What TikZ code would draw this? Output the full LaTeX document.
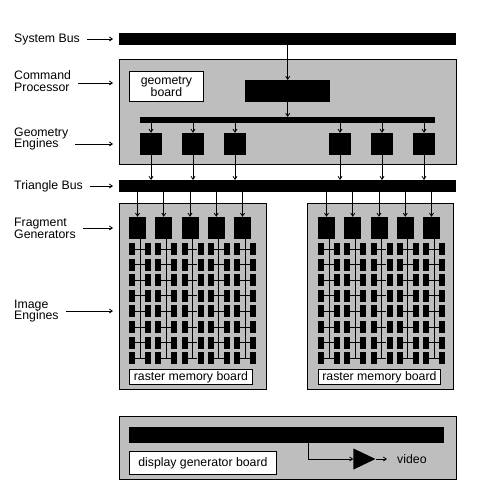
\documentclass[tikz,border=0pt]{standalone}
\usepackage{fontspec}
\setmainfont{Liberation Sans}
\usetikzlibrary{arrows.meta,shapes.geometric}
\definecolor{boardgray}{RGB}{190,190,190}

\begin{document}
\begin{tikzpicture}[x=1pt,y=-1pt]
   \tikzstyle{every node}=[inner sep=0pt, font=\fontsize{12.3}{11.8}\selectfont]
   \tikzstyle{board}=[draw, fill=boardgray, line width=0.8pt, anchor=north west]
   \tikzstyle{bar}=[fill=black, anchor=north west]
   \tikzstyle{chip}=[fill=black, minimum width=22pt, minimum height=22pt]
   \tikzstyle{cell}=[fill=black, minimum width=6pt, minimum height=12pt]
   \tikzstyle{tag}=[draw, fill=white, line width=0.8pt, anchor=north west, align=center]
   \tikzstyle{caption}=[anchor=west, align=left]
   \tikzstyle{feed}=[line width=0.8pt, -{Straight Barb[length=3pt,width=4pt]}]
   \useasboundingbox (0,0) rectangle (488,495);

% buses and boards
\node[bar, minimum width=337pt, minimum height=12pt] (sysbus) at (119,33) {};
\node[board, minimum width=337pt, minimum height=105pt] (cmdproc) at (119,59) {};
\node[tag, minimum width=74pt, minimum height=30pt] (geoboard) at (129,71) {geometry\\board};
\node[bar, minimum width=85pt, minimum height=22pt] (cpchip) at (245,80) {};
\node[bar, minimum width=295pt, minimum height=6pt] (gebus) at (140,117) {};
\node[bar, minimum width=337pt, minimum height=12pt] (tribus) at (119,180) {};
\node[board, minimum width=147pt, minimum height=186pt] (rasterL) at (119,203) {};
\node[board, minimum width=146pt, minimum height=186pt] (rasterR) at (307,203) {};
\node[tag, minimum width=123pt, minimum height=15pt] (rmL) at (129,369) {raster memory board};
\node[tag, minimum width=122pt, minimum height=15pt] (rmR) at (318,369) {raster memory board};
\node[board, minimum width=337pt, minimum height=63pt] (dispboard) at (119,416) {};
\node[bar, minimum width=315pt, minimum height=16pt] (dbar) at (129,427) {};
\node[tag, minimum width=147pt, minimum height=23pt] (dgboard) at (129,451) {display generator board};

% command processor
\draw[feed] (sysbus.south -| cpchip) -- (cpchip);
\draw[feed] (cpchip) -- (gebus.north -| cpchip);

% geometry engines
\foreach \x [count=\i] in {151,193,235,340,382,424}{
   \node[chip] (ge\i) at (\x,144) {};
   \draw[feed] (gebus.south -| ge\i) -- (ge\i);
   \draw[feed] (ge\i) -- (tribus.north -| ge\i);
}

% fragment generators and image engines
\foreach \side/\cx in {L/140,R/329}{
   \foreach \i in {0,...,4}{
      \pgfmathsetmacro\c{\cx+26.25*\i}
      \node[chip, minimum width=17pt] (fg\side\i) at (\c-2.5,228) {};
      \draw[feed] (tribus.south -| fg\side\i) -- (fg\side\i);
      \foreach \j in {0,...,7}{
         \pgfmathsetmacro\r{249+15.6*\j}
         \node[cell] (ia\side\i\j) at (\c-8,\r) {};
         \node[cell] (ib\side\i\j) at (\c+8,\r) {};
         \draw[line width=0.8pt] (ia\side\i\j) -- (ib\side\i\j);
      }
      \draw[line width=0.8pt] ([xshift=2.5pt]fg\side\i.south) -- ([xshift=2.5pt]fg\side\i.south |- ia\side\i7);
   }
}

% display generator
\node[isosceles triangle, isosceles triangle stretches, fill=black,
      minimum width=21pt, minimum height=22pt, anchor=apex] (amp) at (376,459) {};
\coordinate (tap) at (308,443);
\coordinate (vid) at (387,459);
\draw[feed] (tap) |- (amp.lower side);
\draw[feed] (amp.apex) -- (vid);
\node[anchor=west] (video) at (397,459) {video};

% captions
\node[caption] (lsys) at (14,39) {System Bus};
\node[caption] (lcmd) at (14,81) {Command\\Processor};
\node[caption] (lgeo) at (14,139) {Geometry\\Engines};
\node[caption] (ltri) at (14,186) {Triangle Bus};
\node[caption] (lfrag) at (14,228) {Fragment\\Generators};
\node[caption] (limg) at (14,311) {Image\\Engines};
\draw[feed, shorten <=7pt, shorten >=6pt] (lsys) -- (lsys -| sysbus.west);
\draw[feed, shorten <=7pt, shorten >=6pt] ([yshift=-2pt]lcmd.east) -- ([yshift=-2pt]lcmd.east -| cmdproc.west);
\draw[feed, shorten <=7pt, shorten >=6pt] ([yshift=-5pt]lgeo.east) -- ([yshift=-5pt]lgeo.east -| cmdproc.west);
\draw[feed, shorten <=7pt, shorten >=6pt] (ltri) -- (ltri -| tribus.west);
\draw[feed, shorten <=7pt, shorten >=6pt] (lfrag) -- (lfrag -| rasterL.west);
\draw[feed, shorten <=7pt, shorten >=6pt] (limg) -- (limg -| rasterL.west);

\end{tikzpicture}
\end{document}
